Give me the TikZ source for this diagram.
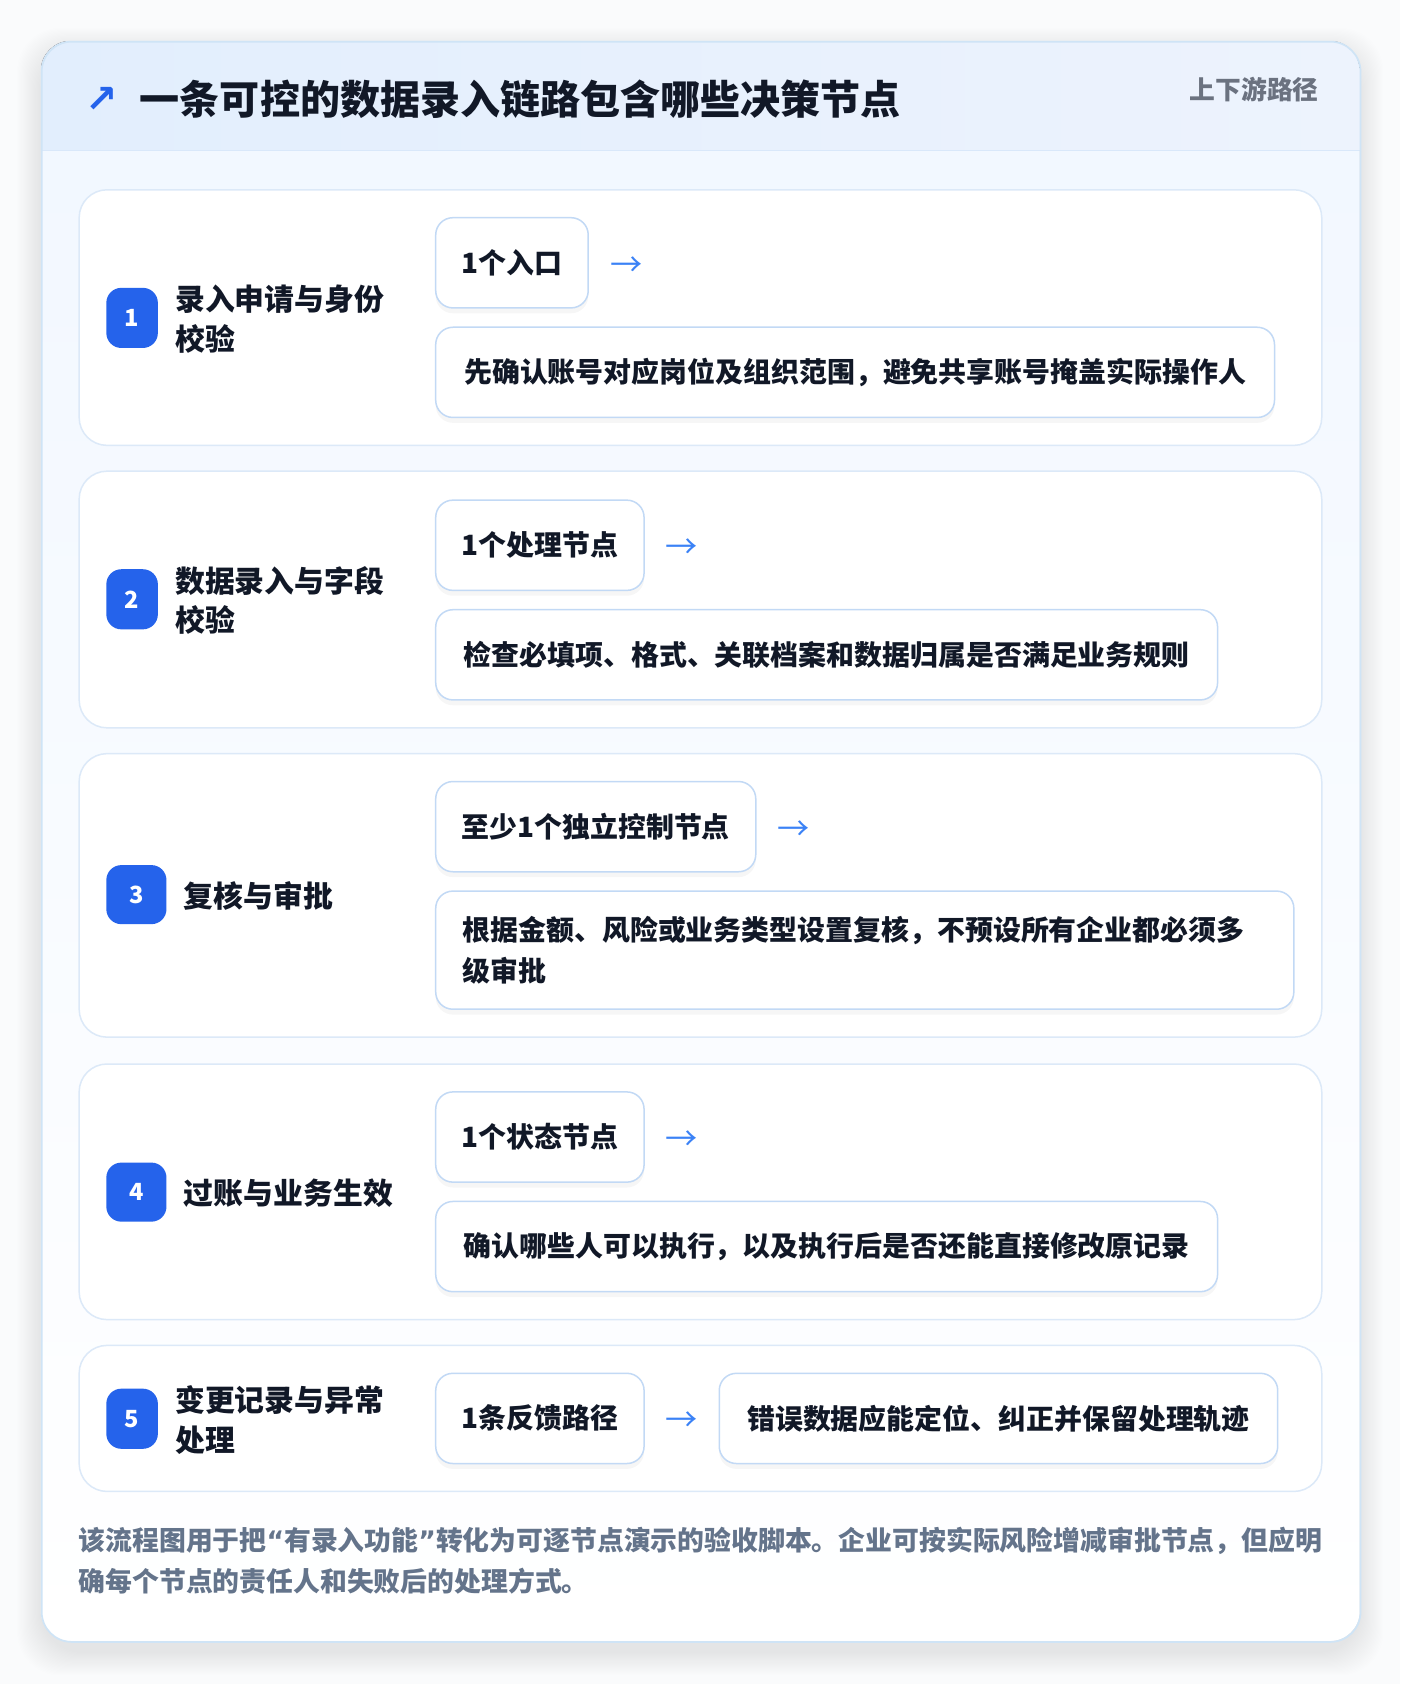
\documentclass[tikz,border=0pt]{standalone}
\usepackage{fontspec}
\setmainfont{Noto Sans CJK SC}
\newfontfamily\symfont{DejaVu Sans}
\usetikzlibrary{shadows}
\definecolor{pagebg}{HTML}{FAFBFC}
\definecolor{cardborder}{HTML}{CFE4F6}
\definecolor{hdrL}{HTML}{E2EEFD}
\definecolor{hdrR}{HTML}{EDF3FD}
\definecolor{hdrline}{HTML}{D9E8FA}
\definecolor{bodytop}{HTML}{F1F7FF}
\definecolor{rowborder}{HTML}{DCE9F8}
\definecolor{chipborder}{HTML}{C2D9F5}
\definecolor{badgeblue}{HTML}{2563EB}
\definecolor{arrowblue}{HTML}{3B82F6}
\definecolor{ink}{HTML}{111827}
\definecolor{muted}{HTML}{6B7280}
\definecolor{foot}{HTML}{64748B}
\tikzset{
  rowcard/.style={draw=rowborder, line width=1.4pt, rounded corners=26pt, fill=white, anchor=north west, inner sep=0pt},
  chip/.style={draw=chipborder, line width=1.4pt, rounded corners=16pt, fill=white, anchor=north west, inner sep=0pt,
    font=\fontsize{26}{38}\selectfont\bfseries, text=ink,
    drop shadow={shadow xshift=0pt, shadow yshift=-5pt, opacity=0.035, fill=black}},
  badge/.style={fill=badgeblue, rounded corners=14pt, text=white, inner sep=0pt, font=\fontsize{22}{22}\selectfont\bfseries},
  steplabel/.style={anchor=west, align=left, text=ink, inner sep=0pt, font=\fontsize{27.8}{37}\selectfont\bfseries},
  flowarrow/.style={text=arrowblue, inner sep=0pt, font=\fontsize{30}{30}\selectfont},
}
\begin{document}
\begin{tikzpicture}[x=1pt,y=-1pt]
\useasboundingbox (0,0) rectangle (1304,1568);
\fill[pagebg] (0,0) rectangle (1304,1568);
% soft shadow of main card
\foreach \i in {1,...,22} {
  \fill[black, opacity=0.0045, rounded corners=40pt] (38-\i,38-\i+10) rectangle (1266+\i,1528+\i+10);
}
% main card body
\path[rounded corners=28pt, top color=bodytop, bottom color=white] (38,38) rectangle (1266,1528);
\begin{scope}
  \clip[rounded corners=28pt] (38,38) rectangle (1266,1528);
  \fill[left color=hdrL, right color=hdrR] (38,38) rectangle (1266,140);
\end{scope}
\draw[hdrline, line width=1.4pt] (38,140) -- (1266,140);
\node[draw=cardborder, line width=1.6pt, rounded corners=28pt, anchor=north west, inner sep=0pt,
  minimum width=1228pt, minimum height=1490pt] (card) at (38,38) {};

% header
\node[text=badgeblue, inner sep=0pt, font=\fontsize{36}{36}\selectfont\symfont\bfseries] (harrow) at (95,93) {↗};
\node[anchor=west, inner sep=0pt, text=ink, font=\fontsize{37.3}{40}\selectfont\bfseries] (title) at (130,92) {一条可控的数据录入链路包含哪些决策节点};
\node[anchor=east, inner sep=0pt, text=muted, font=\fontsize{24}{28}\selectfont\bfseries] (tag) at (1228,83) {上下游路径};

% ---- row 1
\node[rowcard, minimum width=1157pt, minimum height=238pt] (r1) at (73,176) {};
\node[badge, minimum width=48pt, minimum height=56pt] (b1) at (123,296) {1};
\node[steplabel] (l1) at (163,297) {录入申请与身份\\校验};
\node[chip, minimum width=142pt, minimum height=84pt] (t1) at (405,202) {1个入口};
\node[flowarrow] (a1) at (583,248) {→};
\node[chip, minimum width=781pt, minimum height=84pt] (d1) at (405,304) {先确认账号对应岗位及组织范围，避免共享账号掩盖实际操作人};

% ---- row 2
\node[rowcard, minimum width=1157pt, minimum height=239pt] (r2) at (73,438) {};
\node[badge, minimum width=48pt, minimum height=56pt] (b2) at (123,558) {2};
\node[steplabel] (l2) at (163,559) {数据录入与字段\\校验};
\node[chip, minimum width=194pt, minimum height=84pt] (t2) at (405,465) {1个处理节点};
\node[flowarrow] (a2) at (635,511) {→};
\node[chip, minimum width=728pt, minimum height=84pt] (d2) at (405,567) {检查必填项、格式、关联档案和数据归属是否满足业务规则};

% ---- row 3
\node[rowcard, minimum width=1157pt, minimum height=264pt] (r3) at (73,701) {};
\node[badge, minimum width=56pt, minimum height=55pt] (b3) at (127,833) {3};
\node[steplabel] (l3) at (171,834) {复核与审批};
\node[chip, minimum width=298pt, minimum height=84pt] (t3) at (405,727) {至少1个独立控制节点};
\node[flowarrow] (a3) at (739,773) {→};
\node[chip, minimum width=799pt, minimum height=110pt, text width=749pt, align=left] (d3) at (405,829) {根据金额、风险或业务类型设置复核，不预设所有企业都必须多\\级审批};

% ---- row 4
\node[rowcard, minimum width=1157pt, minimum height=238pt] (r4) at (73,990) {};
\node[badge, minimum width=56pt, minimum height=55pt] (b4) at (127,1110) {4};
\node[steplabel] (l4) at (171,1111) {过账与业务生效};
\node[chip, minimum width=194pt, minimum height=84pt] (t4) at (405,1016) {1个状态节点};
\node[flowarrow] (a4) at (635,1062) {→};
\node[chip, minimum width=728pt, minimum height=84pt] (d4) at (405,1118) {确认哪些人可以执行，以及执行后是否还能直接修改原记录};

% ---- row 5
\node[rowcard, minimum width=1157pt, minimum height=136pt] (r5) at (73,1252) {};
\node[badge, minimum width=48pt, minimum height=56pt] (b5) at (123,1321) {5};
\node[steplabel] (l5) at (163,1322) {变更记录与异常\\处理};
\node[chip, minimum width=194pt, minimum height=84pt] (t5) at (405,1278) {1条反馈路径};
\node[flowarrow] (a5) at (635,1324) {→};
\node[chip, minimum width=520pt, minimum height=84pt] (d5) at (669,1278) {错误数据应能定位、纠正并保留处理轨迹};

% footer
\node[anchor=north west, inner sep=0pt, align=left, text=foot, font=\fontsize{25}{38}\selectfont\bfseries] (note) at (73,1422)
  {该流程图用于把{\symfont\bfseries “}有录入功能{\symfont\bfseries ”}转化为可逐节点演示的验收脚本。企业可按实际风险增减审批节点，但应明\\确每个节点的责任人和失败后的处理方式。};
\end{tikzpicture}
\end{document}
